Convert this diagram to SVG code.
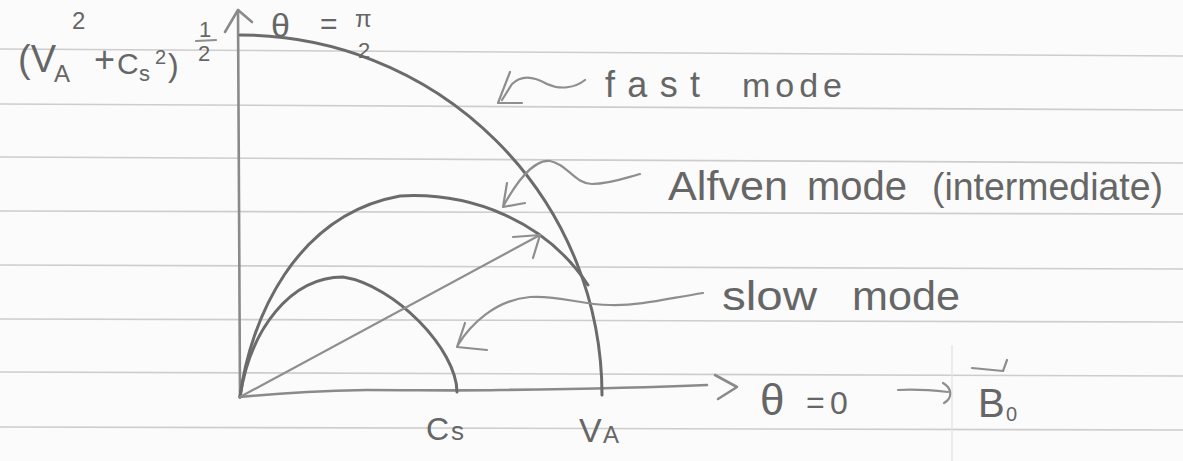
<svg xmlns="http://www.w3.org/2000/svg" width="1183" height="461" viewBox="0 0 1183 461">
  <defs>
    <style>
      .rule { stroke: #cdcdcd; stroke-width: 1.6; fill: none; }
      .pen { stroke: #6b6b6b; stroke-width: 3; fill: none; stroke-linecap: round; stroke-linejoin: round; }
      .axis { stroke: #8a8a8a; stroke-width: 2.6; fill: none; stroke-linecap: round; stroke-linejoin: round; }
      .thin { stroke: #8e8e8e; stroke-width: 2.2; fill: none; stroke-linecap: round; stroke-linejoin: round; }
      .hw { font-family: "Liberation Sans", "DejaVu Sans", sans-serif; fill: #666666; }
    </style>
  </defs>
  <rect x="0" y="0" width="1183" height="461" fill="#fbfbfb"/>

  <g id="paper-rules">
    <line class="rule" x1="0" y1="49" x2="1183" y2="56"/>
    <line class="rule" x1="0" y1="104" x2="1183" y2="110"/>
    <line class="rule" x1="0" y1="157" x2="1183" y2="163"/>
    <line class="rule" x1="0" y1="211" x2="1183" y2="214"/>
    <line class="rule" x1="0" y1="265" x2="1183" y2="269"/>
    <line class="rule" x1="0" y1="319" x2="1183" y2="322"/>
    <line class="rule" x1="0" y1="372" x2="1183" y2="376"/>
    <line class="rule" x1="0" y1="427" x2="1183" y2="430"/>
    <line x1="952" y1="345" x2="952" y2="461" stroke="#e2e2e2" stroke-width="1.2"/>
  </g>

  <g id="axes">
    <path class="axis" d="M240,397 L239,200 L238,10"/>
    <path class="axis" d="M225,32 L238,10 L252,22"/>
    <path class="axis" d="M240,397 C270,394 320,391 367,390 C420,390 457,391 500,390 C580,389 640,388 707,385"/>
    <path class="axis" d="M715,375 L737,387 L718,399"/>
  </g>

  <g id="curves">
    <path id="fast-curve" class="pen" d="M240,35 A362,360 0 0 1 602,395"/>
    <path id="alfven-curve" class="pen" d="M240,397 C250,320 295,215 400,196 C470,192 545,220 588,285"/>
    <path id="slow-curve" class="pen" d="M240,397 C250,330 290,277 343,277 C395,285 457,350 457,392"/>
    <path id="wave-vector" class="thin" d="M240,397 L540,235"/>
    <path class="thin" d="M513,237 L540,235 L533,258"/>
  </g>

  <g id="connectors">
    <path class="thin" d="M585,80 C575,88 560,90 547,84 C535,77 522,74 512,84 L502,100"/>
    <path class="thin" d="M510,72 L498,103 L522,103"/>
    <path class="thin" d="M640,174 C625,178 610,184 592,184 C575,184 567,164 550,161 C533,159 515,185 504,205"/>
    <path class="thin" d="M507,183 L503,207 L525,203"/>
    <path class="thin" d="M703,293 C670,298 640,306 610,305 C580,305 560,295 530,297 C495,300 470,325 458,345"/>
    <path class="thin" d="M465,323 L457,347 L487,350"/>
  </g>

  <g id="y-label">
    <text class="hw" x="18" y="72" font-size="38">(V</text>
    <text class="hw" x="54" y="82" font-size="24">A</text>
    <text class="hw" x="72" y="29" font-size="24">2</text>
    <text class="hw" x="94" y="72" font-size="36">+</text>
    <text class="hw" x="117" y="74" font-size="30">C</text>
    <text class="hw" x="139" y="81" font-size="22">s</text>
    <text class="hw" x="155" y="64" font-size="20">2</text>
    <text class="hw" x="168" y="76" font-size="32">)</text>
    <text class="hw" x="199" y="37" font-size="22">1</text>
    <line class="thin" x1="196" y1="41" x2="216" y2="40"/>
    <text class="hw" x="198" y="61" font-size="22">2</text>
  </g>

  <g id="theta-pi-half">
    <text class="hw" x="271" y="37" font-size="34">θ</text>
    <text class="hw" x="320" y="34" font-size="30">=</text>
    <text class="hw" x="355" y="27" font-size="24">π</text>
    <text class="hw" x="358" y="58" font-size="22">2</text>
  </g>

  <g id="fast-label">
    <text class="hw" x="605" y="97" font-size="36" textLength="95" lengthAdjust="spacing">fast</text>
    <text class="hw" x="742" y="97" font-size="34" textLength="100" lengthAdjust="spacing">mode</text>
  </g>

  <g id="alfven-label">
    <text class="hw" x="668" y="200" font-size="40" textLength="120" lengthAdjust="spacingAndGlyphs">Alfven</text>
    <text class="hw" x="807" y="200" font-size="40" textLength="100" lengthAdjust="spacingAndGlyphs">mode</text>
    <text class="hw" x="932" y="200" font-size="38" textLength="231" lengthAdjust="spacingAndGlyphs">(intermediate)</text>
  </g>

  <g id="slow-label">
    <text class="hw" x="722" y="310" font-size="40" textLength="95" lengthAdjust="spacingAndGlyphs">slow</text>
    <text class="hw" x="852" y="310" font-size="40" textLength="108" lengthAdjust="spacingAndGlyphs">mode</text>
  </g>

  <g id="axis-labels">
    <text class="hw" x="426" y="440" font-size="32">C</text>
    <text class="hw" x="451" y="440" font-size="26">s</text>
    <text class="hw" x="579" y="442" font-size="34">V</text>
    <text class="hw" x="603" y="443" font-size="24">A</text>
  </g>

  <g id="theta-zero">
    <text class="hw" x="760" y="415" font-size="44">θ</text>
    <text class="hw" x="806" y="413" font-size="32">=</text>
    <text class="hw" x="830" y="414" font-size="32">0</text>
  </g>

  <g id="b-field">
    <path class="thin" d="M898,390 C915,389 930,390 948,392"/>
    <path class="thin" d="M943,383 C952,388 953,398 944,403"/>
    <path class="thin" d="M972,368 L1003,371 L1007,360"/>
    <text class="hw" x="978" y="417" font-size="40">B</text>
    <text class="hw" x="1006" y="421" font-size="20">0</text>
  </g>
</svg>
